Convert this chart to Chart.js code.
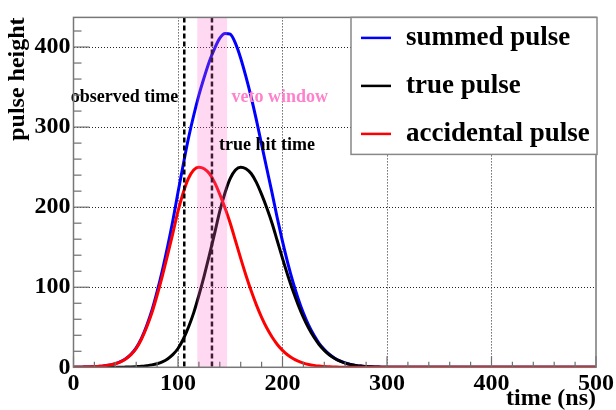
<!DOCTYPE html>
<html><head><meta charset="utf-8">
<script src="https://cdn.jsdelivr.net/npm/chart.js@4"></script>
<style>html,body{margin:0;padding:0;background:#fff}#wrap{width:616px;height:410px;position:relative}</style>
</head><body><div id="wrap"><canvas id="c" width="616" height="410"></canvas></div>
<script>
// ---- data ----
const timeNs = [0,5,10,15,20,25,30,35,40,45,50,55,60,65,70,75,80,85,90,95,100,105,110,115,120,125,130,135,140,145,150,155,160,165,170,175,180,185,190,195,200,205,210,215,220,225,230,235,240,245,250,255,260,265,270,275,280,285,290,295,300,400,500];
const summedPulse = [0.1,0.1,0.3,0.5,0.8,1.2,2.0,3.0,4.6,7.0,
  10.8,16.3,24.3,36.2,52.0,71.0,94.5,120.9,150.5,182.8,
  218.5,253.0,286.0,314.5,340.0,362.0,382.0,398.0,411.0,417.0,
  416.0,404.5,386.0,363.0,337.5,309.0,278.4,248.0,217.8,186.5,
  157.2,130.4,106.5,85.7,67.7,52.6,40.2,30.0,22.2,16.0,
  11.4,7.9,5.4,3.7,2.4,1.5,1.0,0.6,0.4,0.2,
  0.1,0,0];
const truePulse = [0,0,0,0,0,0,0,0,0.1,0.1,
  0.3,0.5,0.8,1.2,2.0,3.0,4.5,6.9,10.5,15.8,
  23.5,35,50,68,90,114,140,167,195,218,
  236,246.5,250,248,242,231,216,199,180,158,
  136,115,95.5,78,62.4,49,37.8,28.5,21.2,15.4,
  11.0,7.7,5.3,3.6,2.4,1.5,1.0,0.6,0.4,0.2,
  0.1,0,0];
const accidentalPulse = [0.1,0.1,0.3,0.5,0.8,1.2,2.0,3.0,4.5,6.9,
  10.5,15.8,23.5,35,50,68,90,114,140,167,
  195,218,236,246.5,250,248,242,231,216,199,
  180,158,136,115,95.5,78,62.4,49,37.8,28.5,
  21.2,15.4,11.0,7.7,5.3,3.6,2.4,1.5,1.0,0.6,
  0.4,0.2,0.1,0.1,0,0,0,0,0,0,
  0,0,0];
const seriesLabels = ['summed pulse','true pulse','accidental pulse'];
const xTickValues = [0,100,200,300,400,500];
const yTickValues = [0,100,200,300,400];
const observedTime = 106;
const trueHitTime = 132.5;
const vetoWindow = [118.5, 147];
const xRange = [0, 500];
const yRange = [0, 437];

// ---- styling ----
const SERIF = '"Liberation Serif", "Times New Roman", serif';
const colors = ['#0000ff', '#000000', '#ff0000'];
const annotations = [
  {text: 'observed time', x: -2.7, y: 331.8, color: '#000000'},
  {text: 'veto window', x: 151.1, y: 331.8, color: '#ff80cc'},
  {text: 'true hit time', x: 139.3, y: 270.8, color: '#000000'}
];

const series = [summedPulse, truePulse, accidentalPulse];
const datasets = series.map((vals, i) => ({
  label: seriesLabels[i],
  data: timeNs.map((t, k) => ({x: t, y: vals[k]})),
  borderColor: colors[i],
  backgroundColor: colors[i],
  borderWidth: 3,
  pointRadius: 0,
  fill: false,
  cubicInterpolationMode: 'monotone',
  order: 2 - i
}));

const decor = {
  id: 'decor',
  afterDatasetsDraw(chart) {
    const {ctx, chartArea: a, scales: {x, y}} = chart;
    ctx.save();
    // dashed time markers
    ctx.strokeStyle = '#000';
    ctx.lineWidth = 2.5;
    ctx.setLineDash([5, 3]);
    [observedTime, trueHitTime].forEach(t => {
      const px = x.getPixelForValue(t);
      ctx.beginPath(); ctx.moveTo(px, a.top); ctx.lineTo(px, a.bottom); ctx.stroke();
    });
    ctx.setLineDash([]);
    // veto window band
    const bx0 = x.getPixelForValue(vetoWindow[0]);
    const bx1 = x.getPixelForValue(vetoWindow[1]);
    ctx.fillStyle = 'rgba(255,100,200,0.25)';
    ctx.fillRect(bx0, a.top, bx1 - bx0, a.bottom - a.top);
    // annotations
    ctx.font = 'bold 18px ' + SERIF;
    ctx.textBaseline = 'alphabetic';
    ctx.textAlign = 'left';
    annotations.forEach(an => {
      ctx.fillStyle = an.color;
      ctx.fillText(an.text, x.getPixelForValue(an.x), y.getPixelForValue(an.y));
    });
    // tick marks (inward)
    ctx.strokeStyle = '#6e6e6e';
    ctx.lineWidth = 1.2;
    for (let v = yRange[0]; v <= yRange[1]; v += 20) {
      const py = y.getPixelForValue(v);
      const len = v % 100 === 0 ? 16 : 8;
      ctx.beginPath(); ctx.moveTo(a.left, py); ctx.lineTo(a.left + len, py); ctx.stroke();
    }
    for (let v = xRange[0]; v <= xRange[1]; v += 20) {
      const px = x.getPixelForValue(v);
      const len = v % 100 === 0 ? 11 : 5.5;
      ctx.beginPath(); ctx.moveTo(px, a.bottom); ctx.lineTo(px, a.bottom - len); ctx.stroke();
    }
    // frame
    ctx.strokeStyle = '#777';
    ctx.lineWidth = 1.5;
    ctx.strokeRect(a.left, a.top, a.right - a.left, a.bottom - a.top);
    // legend box
    const lx = 351, ly = a.top, lw = a.right + 1 - 351, lh = 137;
    ctx.fillStyle = '#fff';
    ctx.fillRect(lx, ly, lw, lh);
    ctx.strokeStyle = '#888';
    ctx.lineWidth = 1.5;
    ctx.strokeRect(lx, ly, lw, lh);
    ctx.font = 'bold 27px ' + SERIF;
    ctx.textBaseline = 'middle';
    chart.data.datasets.forEach((ds, i) => {
      const ry = ly + 20.5 + i * 48;
      ctx.strokeStyle = ds.borderColor;
      ctx.lineWidth = 2.5;
      ctx.beginPath(); ctx.moveTo(lx + 10, ry); ctx.lineTo(lx + 40, ry); ctx.stroke();
      ctx.fillStyle = '#000';
      ctx.fillText(ds.label, lx + 55, ry);
    });
    ctx.restore();
  }
};

new Chart(document.getElementById('c'), {
  type: 'line',
  data: {datasets},
  plugins: [decor],
  options: {
    responsive: false,
    animation: false,
    devicePixelRatio: 1,
    layout: {padding: {top: 13, right: 19, bottom: 0, left: 0}},
    plugins: {legend: {display: false}, tooltip: {enabled: false}},
    scales: {
      x: {
        type: 'linear', min: xRange[0], max: xRange[1],
        afterBuildTicks: s => { s.ticks = xTickValues.map(v => ({value: v})); },
        afterFit: s => { s.height = 42.7; },
        ticks: {autoSkip: false, maxRotation: 0, padding: 2, color: '#000',
          font: {family: SERIF, size: 24, weight: 'bold'}},
        grid: {drawTicks: false, lineWidth: 1,
          color: c => (c.tick && c.tick.value > xRange[0] && c.tick.value < xRange[1]) ? '#222' : 'rgba(0,0,0,0)'},
        border: {display: false, dash: [1, 2]},
        title: {display: true, text: 'time (ns)', align: 'end', color: '#000', padding: 0,
          font: {family: SERIF, size: 24, weight: 'bold', lineHeight: 0.95}}
      },
      y: {
        type: 'linear', min: yRange[0], max: yRange[1],
        afterBuildTicks: s => { s.ticks = yTickValues.map(v => ({value: v})); },
        afterFit: s => { s.width = 73.5; },
        ticks: {autoSkip: false, padding: 3, color: '#000',
          font: {family: SERIF, size: 24, weight: 'bold'}},
        grid: {drawTicks: false, lineWidth: 1,
          color: c => (c.tick && c.tick.value > yRange[0] && c.tick.value < yRange[1]) ? '#222' : 'rgba(0,0,0,0)'},
        border: {display: false, dash: [1, 2]},
        title: {display: true, text: 'pulse height', align: 'end', color: '#000', padding: {top: 3.6, bottom: 0},
          font: {family: SERIF, size: 24, weight: 'bold'}}
      }
    }
  }
});
</script>
</body></html>
